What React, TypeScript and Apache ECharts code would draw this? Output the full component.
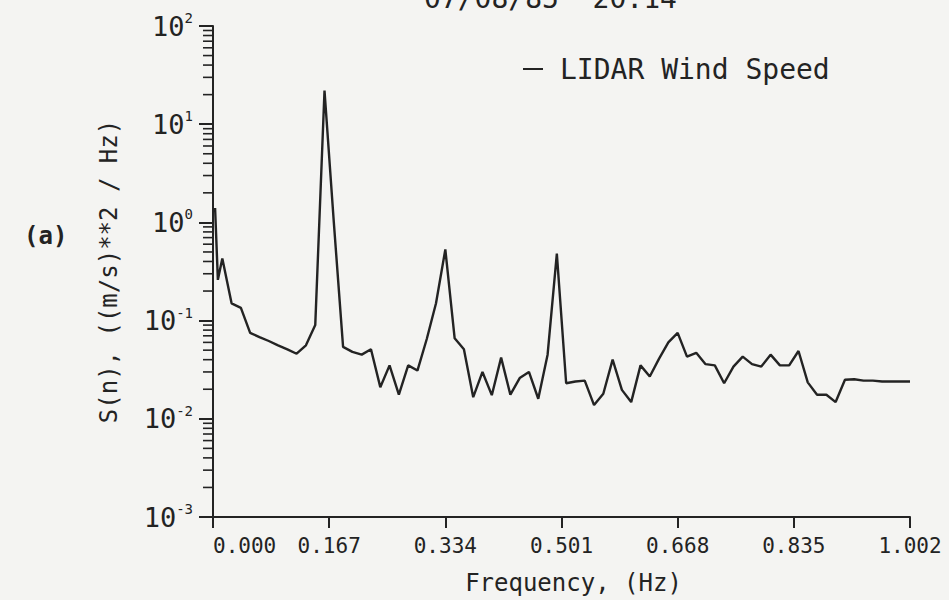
import React, { useEffect, useRef } from "react";
import * as echarts from "echarts";

// Frequencies (Hz) and spectral density values S(n) ((m/s)^2/Hz)
const frequencies = [
  0.003, 0.007, 0.0134, 0.0267, 0.0401, 0.0534, 0.0668, 0.0802, 0.0935, 0.1069,
  0.1202, 0.1336, 0.147, 0.1603, 0.1737, 0.187, 0.2004, 0.2138, 0.2271, 0.2405,
  0.2538, 0.2672, 0.2806, 0.2939, 0.3073, 0.3206, 0.334, 0.3474, 0.3607, 0.3741,
  0.3874, 0.4008, 0.4142, 0.4275, 0.4409, 0.4542, 0.4676, 0.481, 0.4943, 0.5077,
  0.521, 0.5344, 0.5478, 0.5611, 0.5745, 0.5878, 0.6012, 0.6146, 0.6279, 0.6413,
  0.6546, 0.668, 0.6814, 0.6947, 0.7081, 0.7214, 0.7348, 0.7482, 0.7615, 0.7749,
  0.7882, 0.8016, 0.815, 0.8283, 0.8417, 0.855, 0.8684, 0.8818, 0.8951, 0.9085,
  0.9218, 0.9352, 0.9486, 0.9619, 0.9753, 0.9886, 1.002,
];
const spectrum = [
  1.4, 0.26, 0.43, 0.15, 0.135, 0.075, 0.068, 0.062, 0.056, 0.051,
  0.046, 0.056, 0.09, 22, 1.0, 0.054, 0.048, 0.045, 0.051, 0.021,
  0.035, 0.0176, 0.035, 0.031, 0.065, 0.15, 0.53, 0.066, 0.051, 0.0166,
  0.03, 0.0174, 0.042, 0.0176, 0.026, 0.03, 0.016, 0.045, 0.48, 0.023,
  0.024, 0.0245, 0.0138, 0.018, 0.04, 0.0197, 0.0148, 0.035, 0.027, 0.041,
  0.06, 0.075, 0.043, 0.047, 0.036, 0.035, 0.023, 0.034, 0.043, 0.036,
  0.034, 0.045, 0.035, 0.035, 0.049, 0.0235, 0.0176, 0.0176, 0.0148, 0.025,
  0.0253, 0.0245, 0.0245, 0.024, 0.024, 0.024, 0.024,
];
const xTickLabels = ["0.000", "0.167", "0.334", "0.501", "0.668", "0.835", "1.002"];
const decadeExponents = [-3, -2, -1, 0, 1, 2];
const minorMultipliers = [2, 3, 4, 5, 6, 7, 8, 9];

const SERIES_NAME = "LIDAR Wind Speed";
const FONT = '"DejaVu Sans Mono", monospace';
const INK = "#232323";

export default function App() {
  const ref = useRef<HTMLDivElement>(null);

  useEffect(() => {
    if (!ref.current) return;
    const chart = echarts.init(ref.current, undefined, { renderer: "svg" });

    const lineData = frequencies.map((f, i) => [f, spectrum[i]]);
    const minorTicks: number[][] = [];
    decadeExponents.slice(0, -1).forEach((e) => {
      minorMultipliers.forEach((m) => minorTicks.push([0, m * Math.pow(10, e)]));
    });

    const option: any = {
      animation: false,
      backgroundColor: "#f4f4f2",
      grid: { left: 213, top: 26, right: 39, bottom: 76 },
      legend: {
        data: [SERIES_NAME],
        left: 518,
        top: 50,
        icon: "rect",
        itemWidth: 20,
        itemHeight: 2,
        selectedMode: false,
        textStyle: { fontFamily: FONT, fontSize: 28, color: INK, padding: [0, 0, 0, 12] },
      },
      graphic: [
        {
          type: "text",
          left: 424,
          top: -16,
          style: { text: "07/08/85  20:14", font: `28px ${FONT}`, fill: INK },
        },
        {
          type: "text",
          left: 24,
          top: 224,
          style: { text: "(a)", font: `bold 24px ${FONT}`, fill: INK },
        },
      ],
      xAxis: {
        type: "value",
        min: 0,
        max: 1.002,
        interval: 0.167,
        splitLine: { show: false },
        axisLine: { lineStyle: { color: INK, width: 2 } },
        axisTick: { show: true, length: 11, lineStyle: { color: INK, width: 2 } },
        axisLabel: {
          formatter: (v: number) => {
            const idx = Math.round(v / 0.167);
            return xTickLabels[idx] ?? v.toFixed(3);
          },
          fontFamily: FONT,
          fontSize: 21,
          color: INK,
          margin: 18,
          showMinLabel: true,
          showMaxLabel: true,
          alignMinLabel: "left",
        },
        name: "Frequency, (Hz)",
        nameLocation: "middle",
        nameGap: 54,
        nameTextStyle: { fontFamily: FONT, fontSize: 24, color: INK, padding: [0, 0, 0, 24] },
      },
      yAxis: {
        type: "log",
        logBase: 10,
        min: 0.001,
        max: 100,
        splitLine: { show: false },
        axisLine: { lineStyle: { color: INK, width: 2 } },
        axisTick: { show: true, length: 14, lineStyle: { color: INK, width: 2 } },
        axisLabel: {
          formatter: (v: number) => `{b|10}{s|${Math.round(Math.log10(v))}}`,
          margin: 20,
          rich: {
            b: { fontFamily: FONT, fontSize: 27, color: INK, lineHeight: 30 },
            s: { fontFamily: FONT, fontSize: 14, color: INK, verticalAlign: "top", lineHeight: 30 },
          },
        },
        name: "S(n), ((m/s)**2 / Hz)",
        nameLocation: "middle",
        nameGap: 92,
        nameRotate: 90,
        nameTextStyle: { fontFamily: FONT, fontSize: 24, color: INK },
      },
      series: [
        {
          name: SERIES_NAME,
          type: "line",
          data: lineData,
          symbol: "none",
          showSymbol: false,
          lineStyle: { color: INK, width: 2.4 },
          itemStyle: { color: INK },
          z: 3,
        },
        {
          name: "minorTicks",
          type: "custom",
          data: minorTicks,
          silent: true,
          clip: false,
          renderItem: (_p: any, api: any) => {
            const pt = api.coord([api.value(0), api.value(1)]);
            return {
              type: "line",
              shape: { x1: pt[0] - 10, y1: pt[1], x2: pt[0], y2: pt[1] },
              style: { stroke: INK, lineWidth: 1.6 },
            };
          },
        },
      ],
    };

    chart.setOption(option);
    return () => chart.dispose();
  }, []);

  return <div ref={ref} style={{ width: 949, height: 600, position: "absolute", left: 0, top: 0 }} />;
}
